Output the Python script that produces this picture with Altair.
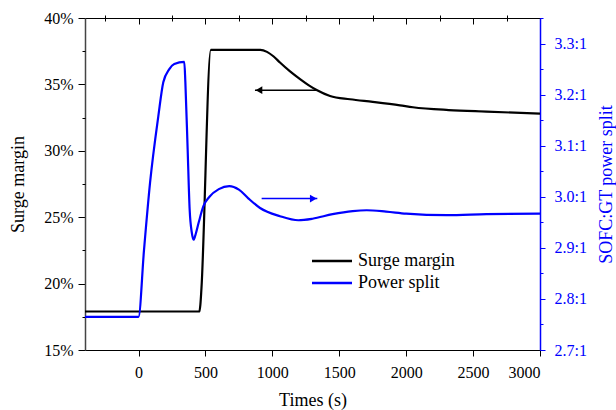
import altair as alt
import pandas as pd

# ---------------- data ----------------
surge_t = [-400, 455, 462, 470, 540, 910, 960, 1010, 1057, 1130, 1207, 1270, 1331,
           1431, 1580, 1750, 1954, 2050, 2317, 2600, 3000]
surge_v = [17.9, 17.9, 18.4, 19.6, 37.6, 37.6, 37.45, 37.1, 36.65, 36.0, 35.4, 34.95,
           34.58, 34.13, 33.88, 33.68, 33.42, 33.28, 33.07, 32.95, 32.8]

power_t = [-400, 0, 41, 86, 148, 185, 230, 267, 342, 350, 367, 382, 398, 411, 425,
           450, 484, 530, 600, 678, 750, 820, 908, 1057, 1194, 1300, 1450, 1600,
           1705, 1850, 2000, 2303, 2600, 3000]
power_v = [2.765, 2.765, 2.896, 3.027, 3.158, 3.224, 3.25, 3.26, 3.264, 3.224, 3.093,
           2.975, 2.93, 2.916, 2.925, 2.95, 2.981, 3.0, 3.015, 3.021, 3.014, 2.997,
           2.978, 2.962, 2.954, 2.957, 2.966, 2.972, 2.9736, 2.971, 2.967, 2.964,
           2.966, 2.967]

series_names = ["Surge margin", "Power split"]
series_colors = ["#000000", "#0000ff"]

x_major = [0, 500, 1000, 1500, 2000, 2500, 3000]
x_minor = [-250, 250, 750, 1250, 1750, 2250, 2750]
yl_major = [15, 20, 25, 30, 35, 40]
yl_minor = [17.5, 22.5, 27.5, 32.5, 37.5]
yr_major = [2.7, 2.8, 2.9, 3.0, 3.1, 3.2, 3.3]
yr_minor = [2.75, 2.85, 2.95, 3.05, 3.15, 3.25, 3.35]

x_domain = [-400, 3000]
yl_domain = [15, 40]
yr_domain = [2.7, 3.35]

# arrows: (tail time, head time, level)
arrow_surge = {"t0": [1331], "t1": [870], "v": [34.56]}
arrow_power = {"t0": [920], "t1": [1336], "v": [2.9965]}

surge = pd.DataFrame({"t": surge_t, "v": surge_v, "series": series_names[0]})
power = pd.DataFrame({"t": power_t, "v": power_v, "series": series_names[1]})
a_s = pd.DataFrame(arrow_surge)
a_p = pd.DataFrame(arrow_power)

FONT = "Liberation Serif"
BLUE = "#0000ff"

xs = alt.Scale(domain=x_domain, nice=False, zero=False)
yls = alt.Scale(domain=yl_domain, nice=False, zero=False)
yrs = alt.Scale(domain=yr_domain, nice=False, zero=False)

color = alt.Color(
    "series:N",
    scale=alt.Scale(domain=series_names, range=series_colors),
    legend=alt.Legend(
        title=None, orient="none", legendX=238, legendY=234,
        symbolType="M-4,0L4,0", symbolSize=100, symbolStrokeWidth=2.5,
        labelFont=FONT, labelFontSize=18, labelColor="black",
        labelOffset=17, rowPadding=4, padding=0,
    ),
)

# main black line with bottom + left axes
surge_line = alt.Chart(surge).mark_line(strokeWidth=2.2, interpolate="monotone").encode(
    x=alt.X("t:Q", scale=xs, axis=alt.Axis(
        values=x_major, tickSize=6, labelPadding=8, title="Times (s)",
        titlePadding=11, domain=False, format="d")),
    y=alt.Y("v:Q", scale=yls, axis=alt.Axis(
        values=yl_major, tickSize=7, labelPadding=5, title="Surge margin",
        titleX=-67, titleBaseline="middle", labelExpr="datum.value + '%'",
        orient="left", domainColor="#444444", domainWidth=1.5)),
    color=color,
)

power_line = alt.Chart(power).mark_line(strokeWidth=2.2, interpolate="monotone").encode(
    x=alt.X("t:Q", scale=xs, axis=None),
    y=alt.Y("v:Q", scale=yrs, axis=alt.Axis(
        values=yr_major, tickSize=5, labelPadding=9, orient="right",
        title="SOFC:GT power split", titleAngle=270, titleX=66,
        titleBaseline="middle",
        labelExpr="format(datum.value, '.1f') + ':1'",
        labelColor=BLUE, tickColor=BLUE, domainColor=BLUE, titleColor=BLUE,
        domainWidth=1.5)),
    color=color,
)

# invisible layers carrying minor ticks and the top axis
minor_bl = alt.Chart(surge).mark_line(opacity=0).encode(
    x=alt.X("t:Q", scale=xs, axis=alt.Axis(
        values=x_minor, tickSize=3, labels=False, domain=False, title=None)),
    y=alt.Y("v:Q", scale=yls, axis=alt.Axis(
        values=yl_minor, tickSize=3, labels=False, domain=False, title=None,
        orient="left")),
)

top_major = alt.Chart(power).mark_line(opacity=0).encode(
    x=alt.X("t:Q", scale=xs, axis=alt.Axis(
        values=x_major, tickSize=6, labels=False, domain=False, title=None,
        orient="top", offset=-6)),
    y=alt.Y("v:Q", scale=yrs, axis=alt.Axis(
        values=yr_minor, tickSize=3, labels=False, domain=False, title=None,
        orient="right", tickColor=BLUE)),
)

top_minor = alt.Chart(power).mark_line(opacity=0).encode(
    x=alt.X("t:Q", scale=xs, axis=alt.Axis(
        values=x_minor, tickSize=3, labels=False, domain=False, title=None,
        orient="top", offset=-3)),
    y=alt.Y("v:Q", scale=yrs, axis=None),
)

# arrows
arr_s_line = alt.Chart(a_s).mark_rule(color="black", strokeWidth=1.5).encode(
    x=alt.X("t0:Q", scale=xs, axis=None), x2="t1:Q",
    y=alt.Y("v:Q", scale=yls, axis=None),
)
arr_s_head = alt.Chart(a_s).mark_point(
    shape="triangle-left", filled=True, color="black", size=60, opacity=1, xOffset=4
).encode(
    x=alt.X("t1:Q", scale=xs, axis=None),
    y=alt.Y("v:Q", scale=yls, axis=None),
)
arr_p_line = alt.Chart(a_p).mark_rule(color=BLUE, strokeWidth=1.5).encode(
    x=alt.X("t0:Q", scale=xs, axis=None), x2="t1:Q",
    y=alt.Y("v:Q", scale=yrs, axis=None),
)
arr_p_head = alt.Chart(a_p).mark_point(
    shape="triangle-right", filled=True, color=BLUE, size=60, opacity=1, xOffset=-4
).encode(
    x=alt.X("t1:Q", scale=xs, axis=None),
    y=alt.Y("v:Q", scale=yrs, axis=None),
)

chart = alt.layer(
    surge_line, minor_bl, arr_s_line, arr_s_head,
    power_line, top_major, top_minor, arr_p_line, arr_p_head,
).resolve_scale(y="independent").resolve_axis(x="independent", y="independent").properties(
    width=455, height=332,
    autosize=alt.AutoSizeParams(type="none"),
    padding={"left": 85, "top": 18, "right": 76, "bottom": 60},
    background="white",
).configure_view(
    stroke="black", strokeWidth=1,
).configure_axis(
    grid=False, labelFont=FONT, titleFont=FONT, labelFontSize=16, titleFontSize=18,
    labelColor="black", titleColor="black", tickColor="black", domainColor="black",
    titleFontWeight="normal", tickWidth=1, labelBound=False, labelOverlap=False,
)

chart.save("out.html", embed_options={"renderer": "svg", "actions": False})
